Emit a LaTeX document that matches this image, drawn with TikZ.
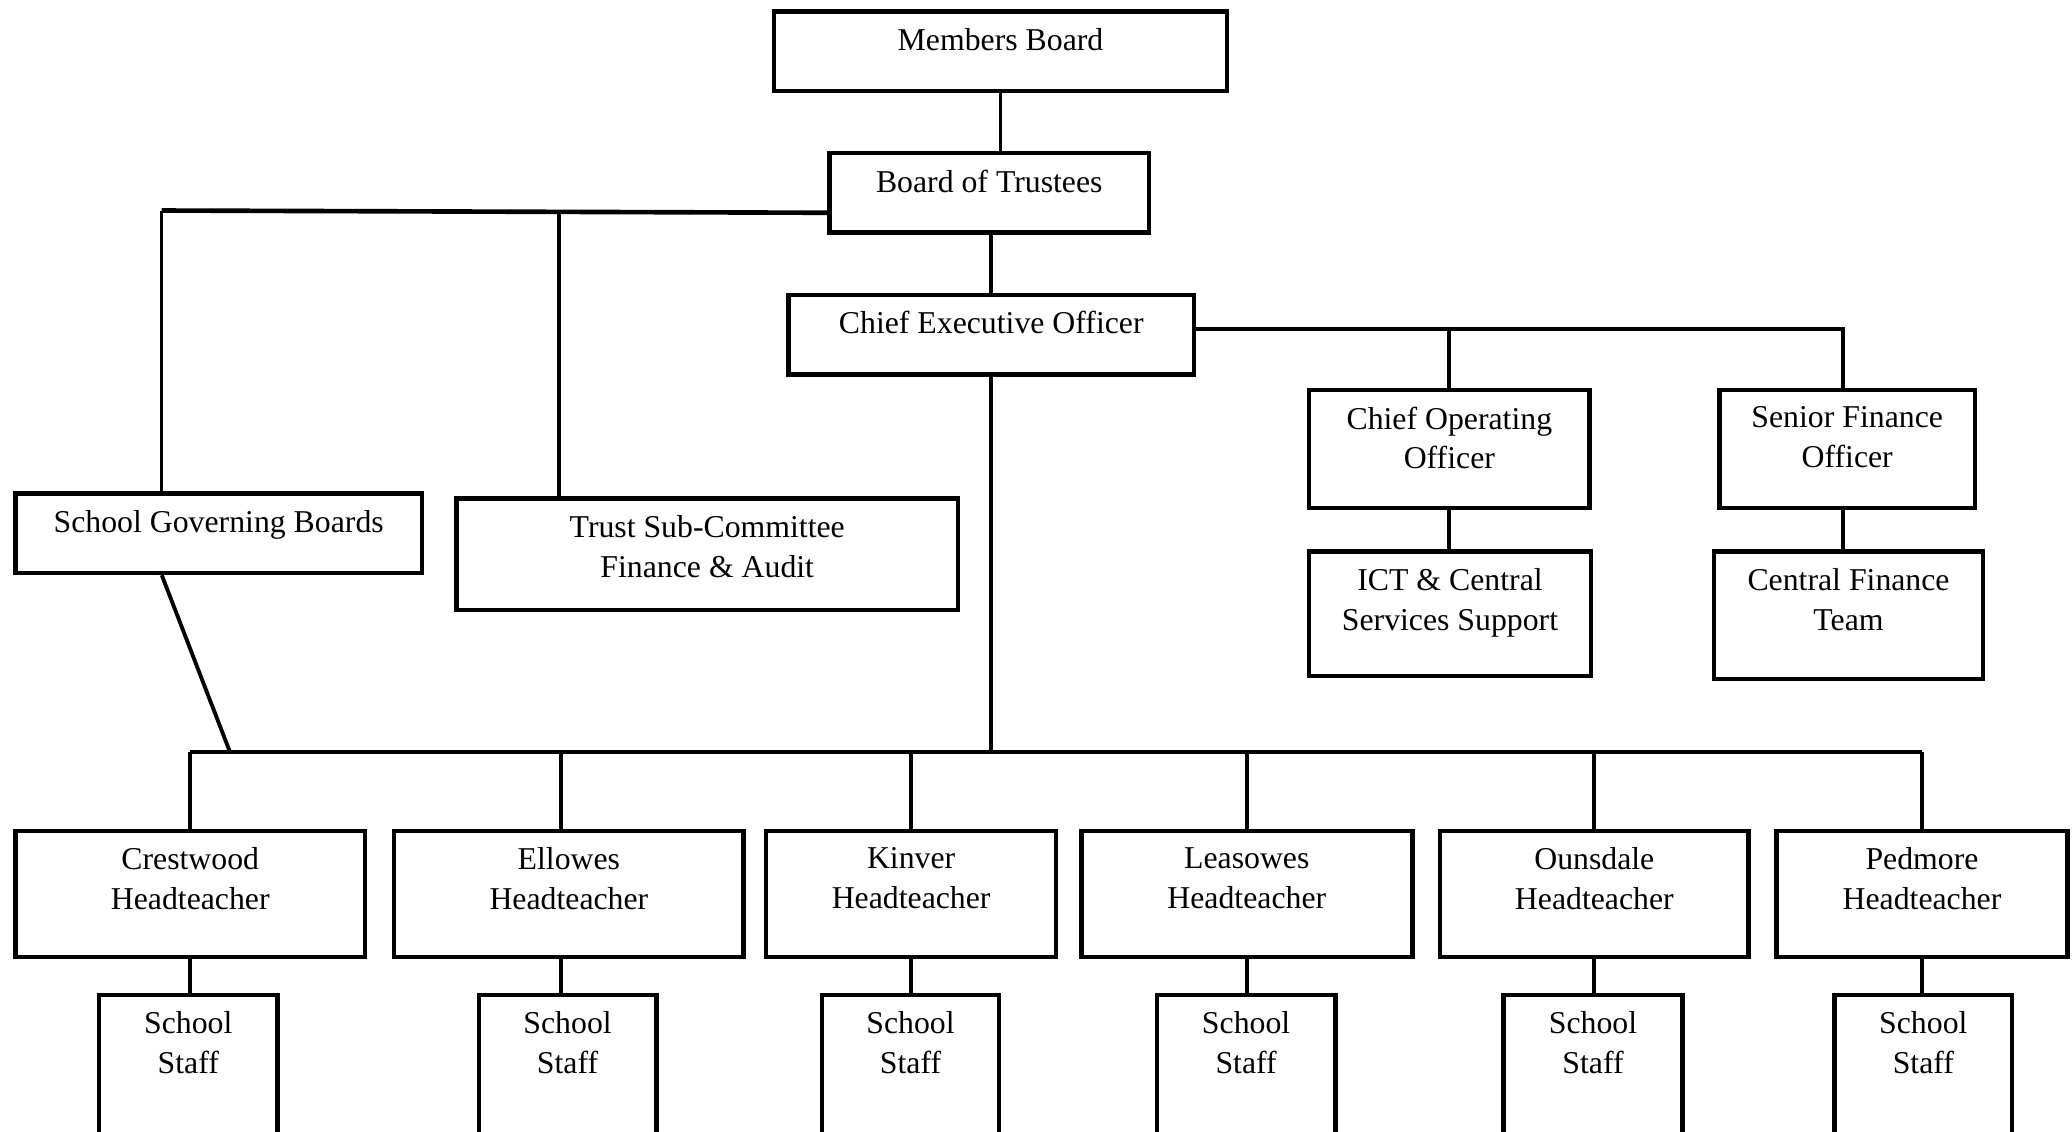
\documentclass[tikz,border=0pt]{standalone}
\usepackage{fontspec}
\setmainfont{Liberation Serif}
\usetikzlibrary{positioning,calc}

\tikzset{
  box/.style 2 args={draw, line width=3.4pt, anchor=north west, inner sep=0pt,
    minimum width=#1, minimum height=#2},
  lbl/.style={anchor=north, yshift=-14pt, inner sep=0pt, align=center,
    font=\fontsize{24}{30}\selectfont},
  link/.style={line width=2.9pt},
  bus/.style={line width=3.5pt}
}

\begin{document}
\begin{tikzpicture}[x=1pt, y=-1pt]
    \useasboundingbox (0,0) rectangle (1565,855);

    % Board level
    \node[box={342}{60}, label={[lbl]north:Members Board}] (mb) at (583,7) {};
    \node[box={241}{60}, label={[lbl]north:Board of Trustees}] (bot) at (625,114) {};
    \node[box={306}{60}, label={[lbl]north:Chief Executive Officer}] (ceo) at (594,221) {};

    % Central team
    \node[box={212}{89}, label={[lbl]north:{Chief Operating\\Officer}}] (coo) at (987,293) {};
    \node[box={193}{89}, label={[lbl]north:{Senior Finance\\Officer}}] (sfo) at (1297,293) {};
    \node[box={213}{94}, label={[lbl]north:{ICT \& Central\\Services Support}}] (ict) at (987,415) {};
    \node[box={203}{96}, label={[lbl]north:{Central Finance\\Team}}] (cft) at (1293,415) {};

    % Governance
    \node[box={307}{60}, label={[lbl]north:School Governing Boards}] (sgb) at (10,371) {};
    \node[box={379}{84}, label={[lbl]north:{Trust Sub-Committee\\Finance \& Audit}}] (tsc) at (343,375) {};

    % Headteachers
    \node[box={264}{95}, label={[lbl]north:{Crestwood\\Headteacher}}] (htc) at (10,626) {};
    \node[box={264}{95}, label={[lbl]north:{Ellowes\\Headteacher}}] (hte) at (296,626) {};
    \node[box={219}{95}, label={[lbl]north:{Kinver\\Headteacher}}] (htk) at (577,626) {};
    \node[box={250}{95}, label={[lbl]north:{Leasowes\\Headteacher}}] (htl) at (815,626) {};
    \node[box={233}{95}, label={[lbl]north:{Ounsdale\\Headteacher}}] (hto) at (1086,626) {};
    \node[box={220}{95}, label={[lbl]north:{Pedmore\\Headteacher}}] (htp) at (1340,626) {};

    % School staff
    \node[box={135}{112}, label={[lbl]north:{School\\Staff}}] (stc) at (73,750) {};
    \node[box={134}{112}, label={[lbl]north:{School\\Staff}}] (ste) at (360,750) {};
    \node[box={134}{112}, label={[lbl]north:{School\\Staff}}] (stk) at (619,750) {};
    \node[box={135}{112}, label={[lbl]north:{School\\Staff}}] (stl) at (872,750) {};
    \node[box={135}{112}, label={[lbl]north:{School\\Staff}}] (sto) at (1134,750) {};
    \node[box={134}{112}, label={[lbl]north:{School\\Staff}}] (stp) at (1384,750) {};

    % Bus points
    \coordinate (gl) at (122,159);
    \coordinate (tl) at (422,159);
    \coordinate (cr) at ([yshift=4pt]ceo.east);
    \coordinate (hbus) at (0,568);

    % Links from the top
    \draw[link] (mb.south) -- (mb.south |- bot.north);
    \draw[link] (ceo.north) -- (ceo.north |- bot.south);
    \draw[bus] ([yshift=-15pt]bot.west) -- (gl);
    \draw[link] (gl) -- (gl |- sgb.north);
    \draw[link] (tl) -- (tl |- tsc.north);

    % CEO to central team
    \draw[link] (cr) -| ([xshift=-3pt]sfo.north);
    \draw[link] (coo.north) -- (coo.north |- cr);
    \draw[link] (coo.south) -- (coo.south |- ict.north);
    \draw[link] ([xshift=-3pt]sfo.south) -- ([xshift=-3pt]sfo.south |- cft.north);

    % CEO and governors to headteachers
    \draw[link] (ceo.south) -- (ceo.south |- hbus);
    \draw[link] ([xshift=-43pt]sgb.south) -- ([xshift=30pt]htc.north |- hbus);
    \draw[bus] (htc.north |- hbus) -- (htp.north |- hbus);
    \draw[link] (htc.north) -- (htc.north |- hbus);
    \draw[link] ([xshift=-6pt]hte.north) -- ([xshift=-6pt]hte.north |- hbus);
    \draw[link] (htk.north) -- (htk.north |- hbus);
    \draw[link] (htl.north) -- (htl.north |- hbus);
    \draw[link] (hto.north) -- (hto.north |- hbus);
    \draw[link] (htp.north) -- (htp.north |- hbus);

    % Headteachers to staff
    \draw[link] (htc.south) -- (htc.south |- stc.north);
    \draw[link] ([xshift=-6pt]hte.south) -- ([xshift=-6pt]hte.south |- ste.north);
    \draw[link] (htk.south) -- (htk.south |- stk.north);
    \draw[link] (htl.south) -- (htl.south |- stl.north);
    \draw[link] (hto.south) -- (hto.south |- sto.north);
    \draw[link] (htp.south) -- (htp.south |- stp.north);

\end{tikzpicture}
\end{document}
